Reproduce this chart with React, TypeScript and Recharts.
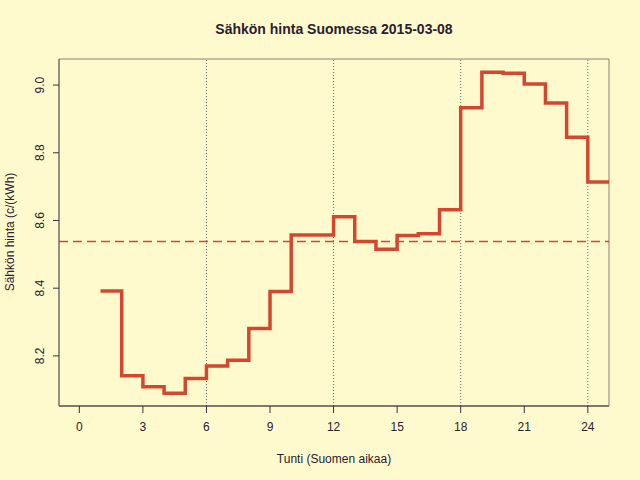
import React from 'react';
import {
  LineChart,
  Line,
  XAxis,
  YAxis,
  ReferenceLine,
  ReferenceArea,
} from 'recharts';

const hours = [1, 2, 3, 4, 5, 6, 7, 8, 9, 10, 11, 12, 13, 14, 15, 16, 17, 18, 19, 20, 21, 22, 23, 24];
const prices = [
  8.392, 8.141, 8.109, 8.09, 8.133, 8.17, 8.187, 8.281, 8.39, 8.557, 8.557, 8.611,
  8.538, 8.515, 8.556, 8.561, 8.632, 8.933, 9.038, 9.035, 9.003, 8.947, 8.846, 8.714,
];
const meanPrice = 8.538;
const xTicks = [0, 3, 6, 9, 12, 15, 18, 21, 24];
const yTicks = [8.2, 8.4, 8.6, 8.8, 9.0];
const guideHours = [6, 12, 18, 24];

// step "after": the last hour's price runs on to the end of the hour
const data = hours.map((h, i) => ({ hour: h, price: prices[i] }));
data.push({ hour: hours[hours.length - 1] + 1, price: prices[prices.length - 1] });

const X_DOMAIN: [number, number] = [-0.96, 25.0];
const Y_DOMAIN: [number, number] = [8.052, 9.077];
const RED = '#d4472f';
const FONT = '"Liberation Sans", Arial, Helvetica, sans-serif';

const YTick = (props: any) => {
  const { x, y, payload } = props;
  const cx = x - 11;
  return (
    <text
      x={cx}
      y={y}
      transform={`rotate(-90, ${cx}, ${y})`}
      textAnchor="middle"
      dominantBaseline="central"
      fontSize={12}
      fill="#2a2030"
      fontFamily={FONT}
    >
      {payload.value.toFixed(1)}
    </text>
  );
};

const YLabel = () => (
  <text
    x={10}
    y={232}
    transform="rotate(-90, 10, 232)"
    textAnchor="middle"
    dominantBaseline="central"
    fontSize={12}
    fill="#2a2030"
    fontFamily={FONT}
  >
    Sähkön hinta (c/(kWh)
  </text>
);

const App = () => {
  return (
    <div
      style={{
        position: 'fixed',
        top: 0,
        left: 0,
        width: 640,
        height: 480,
        background: '#fffacd',
        fontFamily: FONT,
      }}
    >
      <div
        style={{
          position: 'absolute',
          top: 21,
          left: 59,
          width: 550,
          textAlign: 'center',
          fontSize: 14,
          fontWeight: 'bold',
          color: '#2a2030',
        }}
      >
        Sähkön hinta Suomessa 2015-03-08
      </div>
      <LineChart
        width={640}
        height={480}
        data={data}
        margin={{ top: 59, right: 31, bottom: 0, left: 0 }}
      >
        <ReferenceArea
          x1={X_DOMAIN[0]}
          x2={X_DOMAIN[1]}
          y1={Y_DOMAIN[0]}
          y2={Y_DOMAIN[1]}
          fill="none"
          stroke="#8a8272"
          strokeWidth={1}
          ifOverflow="extendDomain"
        />
        <XAxis
          dataKey="hour"
          type="number"
          domain={X_DOMAIN}
          ticks={xTicks}
          allowDataOverflow
          height={74}
          tickSize={7}
          tickMargin={9}
          axisLine={{ stroke: '#3a3040' }}
          tickLine={{ stroke: '#3a3040' }}
          tick={{ fontSize: 12, fill: '#2a2030', fontFamily: FONT }}
          label={{
            value: 'Tunti (Suomen aikaa)',
            position: 'insideBottom',
            offset: 17,
            fontSize: 12,
            fill: '#2a2030',
            fontFamily: FONT,
          }}
        />
        <YAxis
          type="number"
          domain={Y_DOMAIN}
          ticks={yTicks}
          allowDataOverflow
          width={59}
          tickSize={6}
          tickMargin={2}
          axisLine={{ stroke: '#6a6060' }}
          tickLine={{ stroke: '#3a3040' }}
          tick={<YTick />}
          label={<YLabel />}
        />
        {guideHours.map((h) => (
          <ReferenceLine
            key={h}
            x={h}
            stroke="#666"
            strokeWidth={1}
            strokeDasharray="1 2"
          />
        ))}
        <ReferenceLine y={meanPrice} stroke={RED} strokeWidth={1.5} strokeDasharray="9 5" />
        <Line
          type="stepAfter"
          dataKey="price"
          stroke={RED}
          strokeWidth={3.5}
          dot={false}
          isAnimationActive={false}
        />
      </LineChart>
    </div>
  );
};

export default App;
